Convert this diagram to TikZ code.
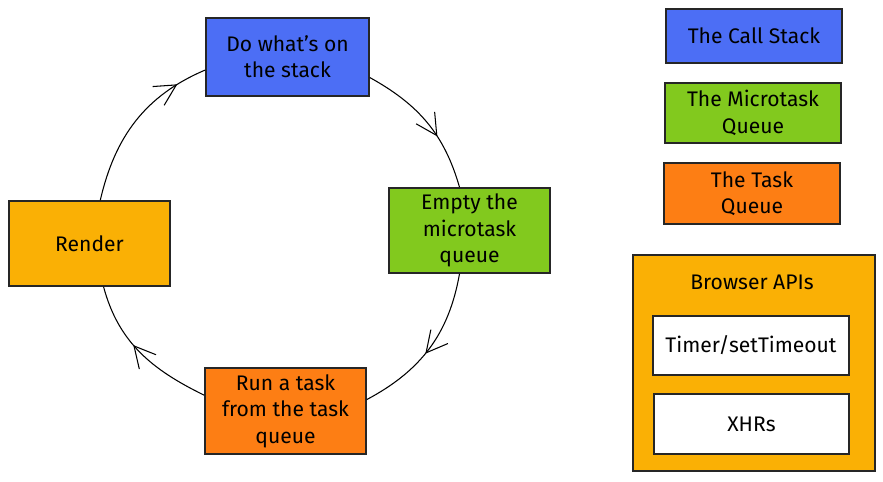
\documentclass[tikz,border=0pt]{standalone}
\usepackage{fontspec}
\setmainfont{Fira Sans}
\usetikzlibrary{arrows.meta,decorations.markings}

\definecolor{stackblue}{HTML}{4C6EF5}
\definecolor{microgreen}{HTML}{82C91E}
\definecolor{taskorange}{HTML}{FD7E14}
\definecolor{apiyellow}{HTML}{FAB005}

\tikzset{
	box/.style={draw=black!85, line width=.9pt, align=center, inner sep=2pt, font=\fontsize{12}{15}\selectfont},
	flow/.style={line width=.6pt, postaction={decorate},
		decoration={markings, mark=at position #1 with {\arrow{Straight Barb[length=4.2mm,width=4.4mm,line width=.6pt]}}}}
}

\begin{document}
\begin{tikzpicture}[x=0.02cm, y=-0.02cm]

	\useasboundingbox (0,0) rectangle (883,482);

	% cycle
	\node[box, fill=stackblue, minimum width=3.26cm, minimum height=1.56cm] (stack) at (287.5,57) {Do what's on\\the stack};
	\node[box, fill=microgreen, minimum width=3.22cm, minimum height=1.70cm] (micro) at (469.5,230.5) {Empty the\\microtask\\queue};
	\node[box, fill=taskorange, minimum width=3.22cm, minimum height=1.72cm] (task) at (285.5,411) {Run a task\\from the task\\queue};
	\node[box, fill=apiyellow, minimum width=3.22cm, minimum height=1.70cm] (render) at (89.5,243.5) {Render};

	\draw[flow=.62] (stack.-14) to[out=-29, in=106] (micro.103);
	\draw[flow=.54] (micro.-103) to[out=-100, in=28] (task.8);
	\draw[flow=.57] (task.169) to[out=154, in=-75] (render.-72);
	\draw[flow=.82] (render.76) to[out=77, in=203] (stack.189);

	% legend
	\node[box, fill=stackblue, minimum width=3.52cm, minimum height=1.08cm] (lstack) at (754,36) {The Call Stack};
	\node[box, fill=microgreen, minimum width=3.52cm, minimum height=1.20cm] (lmicro) at (753,113) {The Microtask\\Queue};
	\node[box, fill=taskorange, minimum width=3.52cm, minimum height=1.22cm] (ltask) at (752,193.5) {The Task\\Queue};

	% browser apis
	\node[box, fill=apiyellow, minimum width=4.84cm, minimum height=4.32cm] (apis) at (754,363) {};
	\node[font=\fontsize{12}{15}\selectfont] (apititle) at (752,282) {Browser APIs};
	\node[box, fill=white, minimum width=3.92cm, minimum height=1.18cm] (timer) at (751,345.5) {Timer/setTimeout};
	\node[box, fill=white, minimum width=3.90cm, minimum height=1.20cm] (xhr) at (751.5,424) {XHRs};

\end{tikzpicture}
\end{document}
